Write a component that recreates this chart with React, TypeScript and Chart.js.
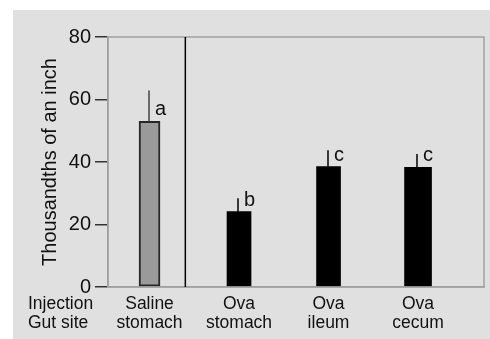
import React, { useEffect, useRef } from "react";
import { Chart, registerables } from "chart.js";

Chart.register(...registerables);

// ---- data ----
const categories: string[][] = [
  ["Saline", "stomach"],
  ["Ova", "stomach"],
  ["Ova", "ileum"],
  ["Ova", "cecum"],
];
const xPositions = [1, 2, 3, 4];
const means = [53.0, 24.1, 38.5, 38.3];
const errorTops = [62.9, 28.4, 43.8, 42.6];
const letters = ["a", "b", "c", "c"];
const yTicks = [0, 20, 40, 60, 80];
const rowLabels = ["Injection", "Gut site"];
const dividerX = 1.4;
const yTitle = "Thousandths of an inch";

// ---- styles ----
const FONT = "'Liberation Sans', Arial, Helvetica, sans-serif";
const barColors = ["#9a9a9a", "#000000", "#000000", "#000000"];
const barBorders = ["#262626", "#000000", "#000000", "#000000"];
const barWidths = [21, 24, 24, 27];
const frameColor = "#a0a0a0";

export default function App() {
  const ref = useRef<HTMLCanvasElement>(null);

  useEffect(() => {
    const canvas = ref.current!;
    const overlay = {
      id: "overlay",
      beforeDraw(chart: any) {
        const { ctx } = chart;
        ctx.save();
        ctx.fillStyle = "#ffffff";
        ctx.fillRect(0, 0, chart.width, chart.height);
        ctx.fillStyle = "#e0e0e0";
        ctx.fillRect(13, 10, chart.width - 13, chart.height - 10);
        ctx.restore();
      },
      afterDatasetsDraw(chart: any) {
        const { ctx, chartArea, scales } = chart;
        const x = scales.x;
        const y = scales.y;
        ctx.save();
        // frame
        ctx.strokeStyle = frameColor;
        ctx.lineWidth = 1.5;
        ctx.strokeRect(chartArea.left, chartArea.top, chartArea.right - chartArea.left, chartArea.bottom - chartArea.top);
        // divider
        const dx = x.getPixelForValue(dividerX);
        ctx.strokeStyle = "#000";
        ctx.lineWidth = 1.5;
        ctx.beginPath();
        ctx.moveTo(dx, chartArea.top);
        ctx.lineTo(dx, chartArea.bottom);
        ctx.stroke();
        // error bars + letters
        xPositions.forEach((xv, i) => {
          const px = Math.round(x.getPixelForValue(xv)) - 1;
          const top = y.getPixelForValue(means[i]);
          const et = y.getPixelForValue(errorTops[i]);
          ctx.strokeStyle = i === 0 ? "#444" : "#000";
          ctx.lineWidth = 1.5;
          ctx.beginPath();
          ctx.moveTo(px, top);
          ctx.lineTo(px, et);
          ctx.stroke();
          ctx.fillStyle = "#111";
          ctx.font = `20px ${FONT}`;
          ctx.textAlign = "left";
          ctx.textBaseline = "alphabetic";
          ctx.fillText(letters[i], px + 6, top - 6);
        });
        ctx.restore();
      },
      afterDraw(chart: any) {
        const { ctx, chartArea } = chart;
        ctx.save();
        ctx.fillStyle = "#111";
        ctx.font = `17.5px ${FONT}`;
        ctx.textAlign = "left";
        ctx.textBaseline = "middle";
        rowLabels.forEach((t, i) => {
          ctx.fillText(t, 28, chartArea.bottom + 8 + 19 * (i + 0.5));
        });
        ctx.restore();
      },
    };

    const chart = new Chart(canvas, {
      type: "bar",
      data: {
        datasets: categories.map((c, i) => ({
          label: c.join(" "),
          data: [{ x: xPositions[i], y: means[i] }],
          backgroundColor: barColors[i],
          borderColor: barBorders[i],
          borderWidth: i === 0 ? 2 : 0,
          borderSkipped: false,
          barThickness: barWidths[i],
          grouped: false,
        })) as any,
      },
      options: {
        animation: false,
        responsive: false,
        maintainAspectRatio: false,
        layout: { padding: { top: 37, right: 6, left: 0, bottom: 0 } },
        plugins: {
          legend: { display: false },
          tooltip: { enabled: false },
        },
        scales: {
          x: {
            type: "linear",
            offset: false,
            min: 0.536,
            max: 4.737,
            afterBuildTicks: (s: any) => {
              s.ticks = xPositions.map((v) => ({ value: v }));
            },
            afterFit: (s: any) => {
              s.height = 52;
            },
            ticks: {
              callback: (v: any) => {
                const i = xPositions.indexOf(Number(v));
                return i >= 0 ? categories[i] : "";
              },
              font: { family: FONT, size: 17.5, lineHeight: 1.086 },
              color: "#111",
              padding: 8,
              maxRotation: 0,
              minRotation: 0,
              autoSkip: false,
            },
            grid: { display: false, drawTicks: false, offset: false },
            border: { display: true, color: frameColor, width: 1.5 },
          },
          y: {
            min: 0,
            max: 80,
            afterBuildTicks: (s: any) => {
              s.ticks = yTicks.map((v) => ({ value: v }));
            },
            afterFit: (s: any) => {
              s.width = 108;
            },
            ticks: {
              font: { family: FONT, size: 20 },
              color: "#111",
              padding: 4,
            },
            grid: {
              drawOnChartArea: false,
              drawTicks: true,
              tickLength: 13,
              color: "#333",
              lineWidth: 1.5,
            },
            border: { display: true, color: frameColor, width: 1.5 },
            title: {
              display: true,
              text: yTitle,
              font: { family: FONT, size: 20 },
              color: "#111",
              padding: { top: 38, bottom: 0 },
            },
          },
        },
      } as any,
      plugins: [overlay],
    });
    return () => chart.destroy();
  }, []);

  return (
    <div style={{ position: "fixed", left: 0, top: 0, width: 490, height: 339 }}>
      <canvas ref={ref} width={490} height={339} style={{ display: "block", width: 490, height: 339 }} />
    </div>
  );
}
